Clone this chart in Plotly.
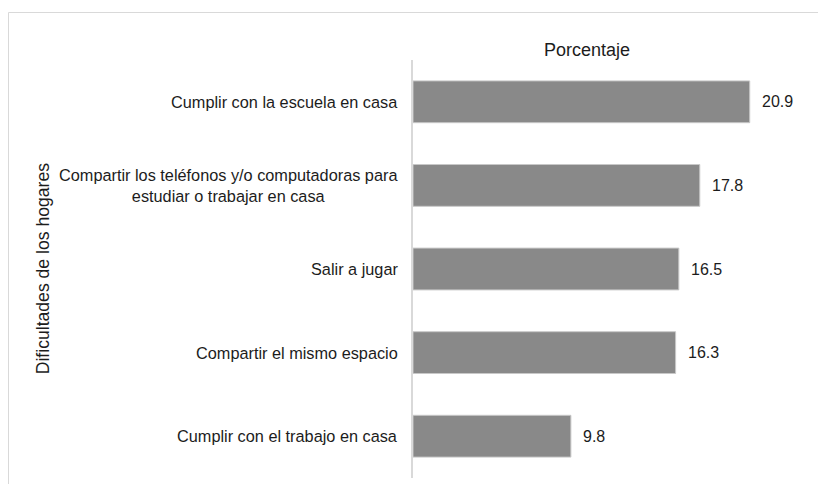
import plotly.graph_objects as go

# === Dati ===
categorie = [
    "Cumplir con la escuela en casa",
    "Compartir los teléfonos y/o computadoras para<br>estudiar o trabajar en casa",
    "Salir a jugar",
    "Compartir el mismo espacio",
    "Cumplir con el trabajo en casa",
]
porcentaje = [20.9, 17.8, 16.5, 16.3, 9.8]
etichette = ["20.9", "17.8", "16.5", "16.3", "9.8"]

FONT = "Liberation Sans, Arial, sans-serif"
TEXT_COLOR = "#1c1c1c"

fig = go.Figure()

fig.add_trace(go.Bar(
    x=porcentaje, y=categorie, orientation="h",
    marker=dict(color="#898989", line=dict(color="#c8c8c8", width=1)),
    width=0.5, showlegend=False, hoverinfo="x+y",
))

# etichette valori a destra delle barre
for cat, val, lab in zip(categorie, porcentaje, etichette):
    fig.add_annotation(
        x=val, y=cat, xref="x", yref="y", text=lab, showarrow=False,
        xanchor="left", xshift=10, font=dict(family=FONT, size=16, color=TEXT_COLOR),
    )

# etichette categorie (centrate su due righe)
for cat in categorie:
    fig.add_annotation(
        x=0, y=cat, xref="paper", yref="y", text=cat, showarrow=False,
        xanchor="right", xshift=-13, align="center",
        font=dict(family=FONT, size=16.3, color=TEXT_COLOR),
    )

# titolo asse y
fig.add_annotation(
    x=-1.097, y=0.5, xref="paper", yref="paper", text="Dificultades de los hogares",
    showarrow=False, textangle=-90, font=dict(family=FONT, size=17.6, color=TEXT_COLOR),
)

# cornice esterna
border = dict(color="#d9d9d9", width=1)
fig.add_shape(type="line", xref="paper", yref="paper", x0=-1.1624, x1=2, y0=1.1136, y1=1.1136, line=border)
fig.add_shape(type="line", xref="paper", yref="paper", x0=-1.1624, x1=-1.1624, y0=1.1136, y1=-0.5, line=border)

fig.update_layout(
    width=810, height=476,
    margin=dict(l=405, r=57, t=52, b=6),
    plot_bgcolor="white", paper_bgcolor="white",
    font=dict(family=FONT, size=16, color=TEXT_COLOR),
    title=dict(text="Porcentaje", x=0.5, xref="paper", xanchor="center",
               y=1, yref="paper", yanchor="bottom", pad=dict(b=4),
               font=dict(family=FONT, size=18, color=TEXT_COLOR)),
)
fig.update_xaxes(range=[0, 21.6], showticklabels=False, showgrid=False, zeroline=False, showline=False)
fig.update_yaxes(autorange="reversed", showticklabels=False, showgrid=False, zeroline=False,
                 showline=True, linecolor="#d9d9d9", linewidth=1.5, ticks="")

fig.write_html("out.html")
